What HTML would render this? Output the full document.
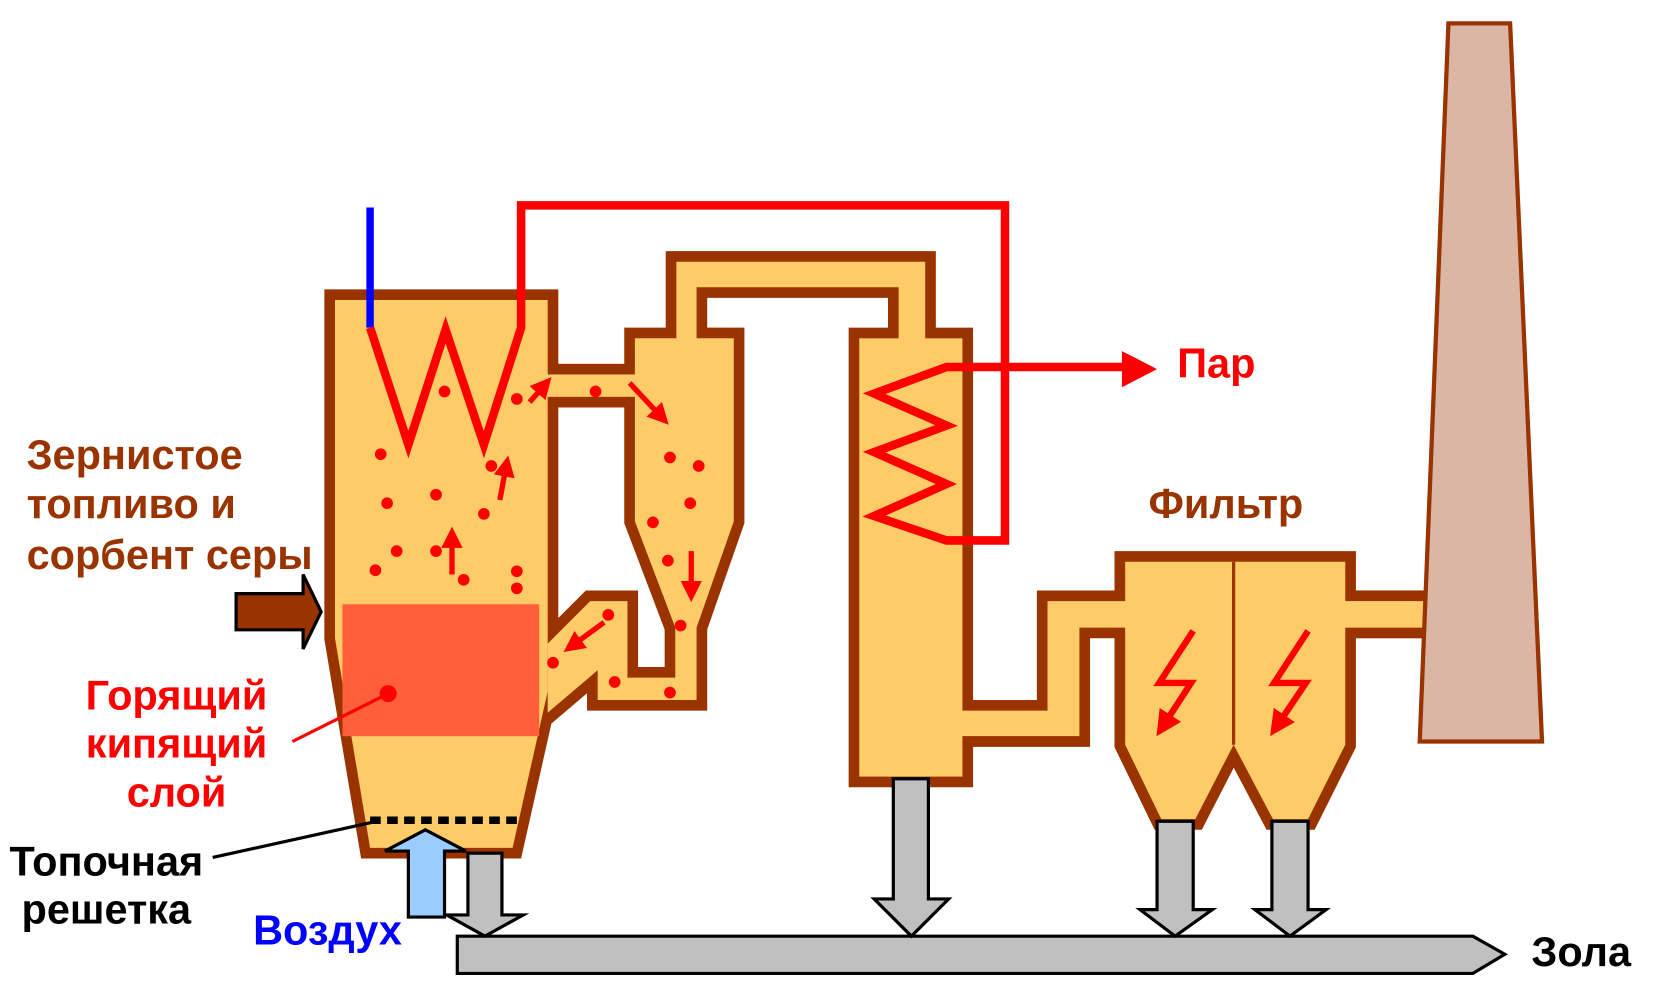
<!DOCTYPE html>
<html><head><meta charset="utf-8"><style>
html,body{margin:0;padding:0;background:#fff;}
svg{display:block;}
text{font-family:"Liberation Sans",sans-serif;font-weight:bold;font-size:39px;}
</style></head><body>
<svg width="1659" height="983" viewBox="0 0 1560 924" preserveAspectRatio="none" xmlns="http://www.w3.org/2000/svg">
<defs>
<marker id="ah" markerWidth="4" markerHeight="4" refX="2" refY="2" orient="auto" markerUnits="strokeWidth"><path d="M0,0 L4,2 L0,4 z" fill="#f00"/></marker>
</defs>
<g fill="#993300" stroke="#993300" stroke-width="20" stroke-linejoin="miter">
<polygon points="315,282 515,282 515,650 482,797 348,797 315,600"/>
<rect x="515" y="352" width="82" height="21"/>
<polygon points="597,318 690,318 690,490 655,590 635,590 597,490"/>
<polygon points="515,605 555,565 590,565 590,637 635,637 635,585 655,585 655,658 562,658 562,630 515,670"/>
<polygon points="636,318 636,246 870,246 870,318 845,318 845,270 655,270 655,318"/>
<rect x="808" y="318" width="97" height="412"/>
<polygon points="905,668 985,668 985,565 1058,565 1058,590 1015,590 1015,692 905,692"/>
<polygon points="1058,528 1265,528 1265,700 1230,770 1197,770 1160,700 1124,770 1092,770 1058,700"/>
<rect x="1265" y="565" width="75" height="25"/>
</g>
<g fill="#FDCB67">
<polygon points="315,282 515,282 515,650 482,797 348,797 315,600"/>
<rect x="505" y="352" width="102" height="21"/>
<polygon points="597,318 690,318 690,490 655,590 635,590 597,490"/>
<polygon points="515,605 555,565 590,565 590,637 635,637 635,580 655,580 655,658 562,658 562,630 515,670"/>
<polygon points="636,325 636,246 870,246 870,325 845,325 845,270 655,270 655,325"/>
<rect x="808" y="318" width="97" height="412"/>
<polygon points="895,668 985,668 985,565 1068,565 1068,590 1015,590 1015,692 895,692"/>
<polygon points="1058,528 1265,528 1265,700 1230,770 1197,770 1160,700 1124,770 1092,770 1058,700"/>
<rect x="1255" y="565" width="90" height="25"/>
</g>
<line x1="1160" y1="528" x2="1160" y2="700" stroke="#993300" stroke-width="3"/>
<polygon points="1362,22 1420,22 1450,697 1335,697" fill="#DBB6A5" stroke="#993300" stroke-width="4"/>
<rect x="322" y="568" width="185" height="124" fill="#FF6039"/>
<line x1="348" y1="771" x2="492" y2="771" stroke="#000" stroke-width="7" stroke-dasharray="10,6"/>
<line x1="348" y1="195" x2="348" y2="308" stroke="#00f" stroke-width="7"/>
<polyline points="348,308 384,418 419,310 455,418 490,308 490,193 945,193 945,508 890,508 822,485 890,455 822,425 890,400 822,370 890,345 1058,345" fill="none" stroke="#f00" stroke-width="8"/>
<polygon points="1055,330 1088,347 1055,364" fill="#f00"/>
<g fill="#f00">
<circle cx="418" cy="368" r="5.5"/><circle cx="358" cy="427" r="5.5"/><circle cx="364" cy="473" r="5.5"/><circle cx="410" cy="465" r="5.5"/><circle cx="455" cy="483" r="5.5"/><circle cx="373" cy="518" r="5.5"/><circle cx="353" cy="536" r="5.5"/><circle cx="410" cy="518" r="5.5"/><circle cx="436" cy="545" r="5.5"/><circle cx="486" cy="537" r="5.5"/><circle cx="486" cy="553" r="5.5"/><circle cx="462" cy="438" r="5.5"/><circle cx="486" cy="375" r="5.5"/><circle cx="560" cy="368" r="5.5"/><circle cx="630" cy="430" r="5.5"/><circle cx="657" cy="438" r="5.5"/><circle cx="649" cy="473" r="5.5"/><circle cx="614" cy="491" r="5.5"/><circle cx="628" cy="527" r="5.5"/><circle cx="640" cy="588" r="5.5"/><circle cx="572" cy="578" r="5.5"/><circle cx="520" cy="623" r="5.5"/><circle cx="578" cy="641" r="5.5"/><circle cx="630" cy="651" r="5.5"/><circle cx="365" cy="652" r="8"/>
</g>
<line x1="365" y1="652" x2="275" y2="697" stroke="#f00" stroke-width="3"/>
<g stroke="#f00" stroke-width="5" marker-end="url(#ah)">
<line x1="425" y1="540" x2="425" y2="505"/>
<line x1="470" y1="470" x2="476" y2="438"/>
<line x1="498" y1="378" x2="512" y2="362"/>
<line x1="592" y1="360" x2="622" y2="392"/>
<line x1="650" y1="518" x2="650" y2="556"/>
<line x1="568" y1="585" x2="538" y2="607"/>
</g>
<g fill="none" stroke="#f00" stroke-width="6" marker-end="url(#ah)">
<polyline points="1122,593 1090,642 1120,642 1094,682"/>
<polyline points="1230,593 1198,642 1228,642 1201,682"/>
</g>
<g fill="#C0C0C0" stroke="#000" stroke-width="3">
<polygon points="430,880 1385,880 1415,897 1385,915 430,915"/>
<polygon points="840,732 873,732 873,845 892,845 857,880 822,845 840,845"/>
<polygon points="1088,772 1122,772 1122,855 1140,855 1105,880 1072,855 1088,855"/>
<polygon points="1196,772 1230,772 1230,855 1247,855 1213,880 1180,855 1196,855"/>
<polygon points="440,802 472,802 472,860 492,860 456,880 420,860 440,860"/>
</g>
<polygon points="384,862 418,862 418,800 438,800 400,780 362,800 384,800" fill="#99CCFF" stroke="#000" stroke-width="3"/>
<polygon points="222,558 285,558 285,540 302,575 285,610 285,592 222,592" fill="#993300" stroke="#000" stroke-width="3"/>
<line x1="200" y1="806" x2="350" y2="773" stroke="#000" stroke-width="3"/>
<g fill="#993300">
<text x="25" y="441">Зернистое</text>
<text x="25" y="487">топливо и</text>
<text x="25" y="535">сорбент серы</text>
<text x="1080" y="487">Фильтр</text>
</g>
<g fill="#f00" text-anchor="middle">
<text x="166" y="667">Горящий</text>
<text x="166" y="712">кипящий</text>
<text x="166" y="758">слой</text>
</g>
<text x="1107" y="355" fill="#f00">Пар</text>
<g fill="#000" text-anchor="middle">
<text x="100" y="823">Топочная</text>
<text x="100" y="868">решетка</text>
</g>
<text x="238" y="888" fill="#00f">Воздух</text>
<text x="1440" y="908" fill="#000">Зола</text>
</svg>
</body></html>
